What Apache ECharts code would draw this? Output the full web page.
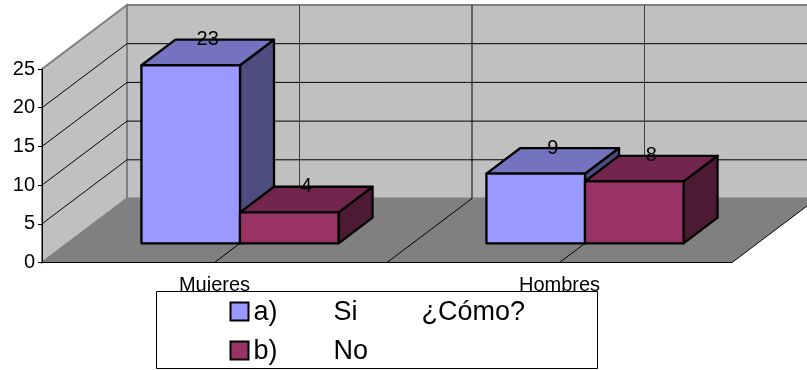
<!DOCTYPE html>
<html>
<head>
<meta charset="utf-8">
<style>
html,body{margin:0;padding:0;background:#fff;}
#chart{width:807px;height:370px;}
</style>
<script src="https://cdn.jsdelivr.net/npm/echarts@6/dist/echarts.min.js"></script>
</head>
<body>
<div id="chart"></div>
<script>
var categories = ['Mujeres', 'Hombres'];
var valuesA = [23, 9];
var valuesB = [4, 8];
var yTicks = [5, 10, 15, 20, 25];
var nameA = 'a) Si ¿Cómo?';
var nameB = 'b) No';
var legendColumnsA = ['a)', 'Si', '¿Cómo?'];
var legendColumnsB = ['b)', 'No', ''];

var FONT = '"Liberation Sans", Arial, sans-serif';
// oblique offset of the floor, front edge to back wall
var DX = 85, DY = -64;
// excel: gap width 150%, 2 bars => 3.5 bar widths per category
var BAR_RATIO = 1 / 3.5;

function off(p, f) {
	return [p[0] + DX * f, p[1] + DY * f];
}

function renderWalls(params, api) {
	var bandW = api.size([1, 0])[0];
	var o = api.coord([0, 0]);
	var top = api.coord([0, 25])[1];
	var left = o[0] - bandW / 2;
	var right = left + bandW * categories.length;
	var base = o[1];
	var kids = [];
	function poly(points, fill, stroke, w) {
		kids.push({type: 'polygon', shape: {points: points}, style: {fill: fill, stroke: stroke, lineWidth: w || 0}});
	}
	function line(a, b, color, w) {
		kids.push({type: 'line', shape: {x1: a[0], y1: a[1], x2: b[0], y2: b[1]}, style: {stroke: color, lineWidth: w || 1}});
	}
	poly([[left, base], off([left, base], 1), off([left, top], 1), [left, top]], '#C0C0C0', '#808080', 2);
	poly([off([left, base], 1), off([right, base], 1), off([right, top], 1), off([left, top], 1)], '#C0C0C0', '#808080', 2);
	poly([[left, base], [right, base], off([right, base], 1), off([left, base], 1)], '#808080');
	yTicks.forEach(function (t) {
		var y = api.coord([0, t])[1];
		if (t < 25) {
			line([left, y], off([left, y], 1), '#000');
			line(off([left, y], 1), off([right, y], 1), '#000');
		}
	});
	// every half category, up the floor and the back wall
	for (var i = 1; i < categories.length * 2; i++) {
		var x = left + bandW * i / 2;
		line([x, base], off([x, base], 1), '#000');
		line(off([x, base], 1), off([x, top], 1), i % 2 ? '#404040' : '#000');
	}
	line([right, base], off([right, base], 1), '#000');
	return {type: 'group', children: kids};
}

function bar3d(slot, front, topFace, side) {
	return function (params, api) {
		var p = api.coord([api.value(0), api.value(1)]);
		var zero = api.coord([api.value(0), 0]);
		var w = api.size([1, 0])[0] * BAR_RATIO;
		var x0 = p[0] + slot * w;
		var a = off([x0, zero[1]], 0.3);
		var b = off([x0 + w, zero[1]], 0.3);
		var c = off([x0 + w, p[1]], 0.3);
		var d = off([x0, p[1]], 0.3);
		var st = function (fill) {
			return {fill: fill, stroke: '#000', lineWidth: 2.3, lineJoin: 'round'};
		};
		return {
			type: 'group',
			children: [
				{type: 'polygon', shape: {points: [b, c, off(c, 0.4), off(b, 0.4)]}, style: st(side)},
				{type: 'polygon', shape: {points: [d, c, off(c, 0.4), off(d, 0.4)]}, style: st(topFace)},
				{type: 'polygon', shape: {points: [a, b, c, d]}, style: st(front)},
				{type: 'text', z2: 10, style: {
					text: String(api.value(1)),
					x: (d[0] + c[0]) / 2 + DX * 0.2,
					y: c[1] + DY * 0.4,
					align: 'center', verticalAlign: 'middle',
					font: '20px ' + FONT, fill: '#000'
				}}
			]
		};
	};
}

function legendText(cols) {
	return '{a|' + cols[0] + '}{b|' + cols[1] + '}{c|' + (cols[2] || ' ') + '}';
}

var richCol = function (w) {
	return {width: w, height: 30, lineHeight: 30, fontSize: 27, fontFamily: FONT, padding: [2, 0, 0, 0]};
};

var chart = echarts.init(document.getElementById('chart'), null, {renderer: 'canvas'});
chart.setOption({
	animation: false,
	backgroundColor: '#fff',
	grid: {left: 42, right: 75, top: 69, bottom: 107.5},
	xAxis: {
		type: 'category',
		data: categories,
		z: 3,
		axisLine: {lineStyle: {color: '#000', width: 1}},
		axisTick: {length: 4, lineStyle: {color: '#000'}},
		axisLabel: {color: '#000', fontSize: 20, fontFamily: FONT, margin: 13},
		splitLine: {show: false}
	},
	yAxis: {
		type: 'value',
		min: 0,
		max: 25,
		interval: 5,
		z: 3,
		axisLine: {show: true, lineStyle: {color: '#000', width: 1}},
		axisTick: {show: true, length: 4, lineStyle: {color: '#000'}},
		axisLabel: {color: '#000', fontSize: 20, fontFamily: FONT, margin: 7},
		splitLine: {show: false}
	},
	legend: {
		left: 156.5,
		top: 291.5,
		height: 200,
		orient: 'vertical',
		data: [nameA, nameB],
		backgroundColor: '#fff',
		borderColor: '#000',
		borderWidth: 1,
		borderRadius: 0,
		padding: [4, 2, 2, 73],
		itemWidth: 18,
		itemHeight: 18,
		itemGap: 7,
		icon: 'rect',
		itemStyle: {borderColor: '#000', borderWidth: 2},
		selectedMode: false,
		formatter: function (name) {
			return legendText(name === nameA ? legendColumnsA : legendColumnsB);
		},
		textStyle: {
			color: '#000',
			fontFamily: FONT,
			fontSize: 27,
			rich: {
				a: richCol(80),
				b: richCol(88),
				c: richCol(174)
			}
		}
	},
	series: [
		{
			name: 'walls',
			type: 'custom',
			z: 1,
			silent: true,
			renderItem: renderWalls,
			data: [[0, 0]]
		},
		{
			name: nameA,
			type: 'custom',
			z: 2,
			itemStyle: {color: '#9999FF'},
			renderItem: bar3d(-1, '#9999FF', '#7373BF', '#4D4D80'),
			data: valuesA.map(function (v, i) { return [i, v]; })
		},
		{
			name: nameB,
			type: 'custom',
			z: 2,
			itemStyle: {color: '#993366'},
			renderItem: bar3d(0, '#993366', '#73264D', '#4D1A33'),
			data: valuesB.map(function (v, i) { return [i, v]; })
		}
	]
});
</script>
</body>
</html>
